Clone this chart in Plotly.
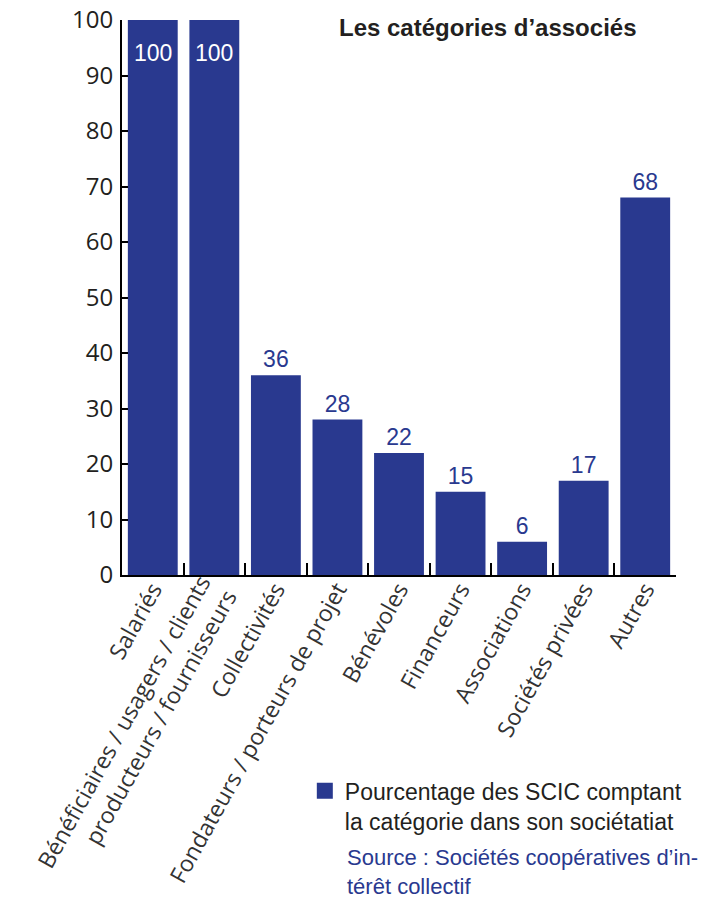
import plotly.graph_objects as go

categories = [
    "Salariés",
    "Bénéficiaires / usagers / clients<br>producteurs / fournisseurs",
    "Collectivités",
    "Fondateurs / porteurs de projet",
    "Bénévoles",
    "Financeurs",
    "Associations",
    "Sociétés privées",
    "Autres",
]
values = [100, 100, 36, 28, 22, 15, 6, 17, 68]
y_ticks = [0, 10, 20, 30, 40, 50, 60, 70, 80, 90, 100]
series_name = "Pourcentage des SCIC comptant<br>la catégorie dans son sociétatiat"

BLUE = "#29398F"
DARK = "#231F20"
LABEL_FONT = "Liberation Sans, Arial"

inside = [v >= 95 for v in values]

fig = go.Figure()
fig.add_trace(go.Bar(
    x=categories,
    y=values,
    name=series_name,
    marker=dict(color=BLUE, line=dict(width=0)),
    text=["" if ins else str(v) for v, ins in zip(values, inside)],
    textposition="outside",
    outsidetextfont=dict(color=BLUE, size=23, family=LABEL_FONT),
    cliponaxis=False,
    showlegend=False,
))
# legend entry with a larger square symbol
fig.add_trace(go.Scatter(
    x=[None], y=[None], mode="markers", name=series_name,
    marker=dict(symbol="square", size=18, color=BLUE),
    showlegend=True,
))

annotations = [
    dict(
        text="<b>Les catégories d’associés</b>",
        x=0.66, y=0.986, xref="paper", yref="paper",
        xanchor="center", yanchor="middle", showarrow=False,
        font=dict(size=24, family=LABEL_FONT, color=DARK),
    ),
    dict(
        text="Source : Sociétés coopératives d’in-<br>térêt collectif",
        x=0.4025, y=-0.483, xref="paper", yref="paper",
        xanchor="left", yanchor="top", align="left", showarrow=False,
        font=dict(size=22, family=LABEL_FONT, color=BLUE),
    ),
]
# value labels inside the full-height bars
for c, v, ins in zip(categories, values, inside):
    if ins:
        annotations.append(dict(
            text=str(v), x=c, y=v, xref="x", yref="y",
            xanchor="center", yanchor="top", yshift=-18, showarrow=False,
            font=dict(size=23, family=LABEL_FONT, color="white"),
        ))

fig.update_layout(
    width=707,
    height=906,
    margin=dict(l=122, r=31, t=20, b=331),
    paper_bgcolor="white",
    plot_bgcolor="white",
    bargap=0.19,
    showlegend=True,
    legend=dict(
        x=0.33, y=-0.35, xanchor="left", yanchor="top",
        font=dict(size=23, family=LABEL_FONT, color=DARK),
        bgcolor="rgba(0,0,0,0)",
        itemsizing="trace",
        valign="top",
    ),
    annotations=annotations,
)

fig.update_xaxes(
    type="category",
    automargin=False,
    showline=True, linecolor="black", linewidth=2,
    ticks="inside", tickson="boundaries", ticklen=12, tickwidth=2, tickcolor="black",
    tickangle=-61,
    tickfont=dict(size=23, family="Open Sans", color="#333333"),
    ticklabelstandoff=-10,
    showgrid=False,
)
fig.update_yaxes(
    range=[0, 100],
    automargin=False,
    tickvals=y_ticks,
    showline=True, linecolor="black", linewidth=2,
    ticks="inside", ticklen=6, tickwidth=2, tickcolor="black",
    tickfont=dict(size=24, family="Open Sans", color=DARK),
    ticklabelstandoff=2,
    showgrid=False, zeroline=False,
)

fig.write_html("out.html")
